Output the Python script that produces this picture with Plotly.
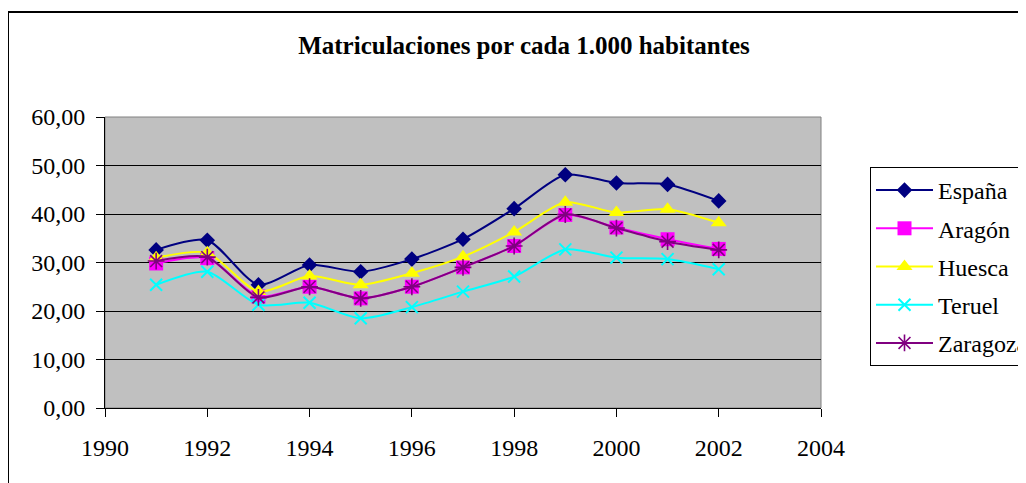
import plotly.graph_objects as go

years = [1991, 1992, 1993, 1994, 1995, 1996, 1997, 1998, 1999, 2000, 2001, 2002]
espana = [32.6, 34.6, 25.4, 29.5, 28.1, 30.7, 34.8, 41.1, 48.1, 46.4, 46.1, 42.7]
aragon = [29.8, 30.9, 23.0, 25.0, 22.6, 25.0, 29.0, 33.4, 39.8, 37.2, 34.8, 32.8]
huesca = [31.0, 32.0, 24.0, 27.2, 25.4, 27.8, 31.2, 36.3, 42.4, 40.3, 41.0, 38.2]
teruel = [25.4, 28.1, 21.3, 21.7, 18.5, 20.8, 24.0, 27.1, 32.7, 31.0, 30.7, 28.6]
zaragoza = [30.3, 31.1, 22.8, 25.0, 22.6, 25.0, 29.0, 33.4, 39.9, 37.1, 34.3, 32.6]

y_ticks = [0, 10, 20, 30, 40, 50, 60]
x_ticks = [1990, 1992, 1994, 1996, 1998, 2000, 2002, 2004]

FONT = "Liberation Serif, Times New Roman, serif"
FS = 24

series = [
    ("España", espana, "#000080", "diamond", 12, 0),
    ("Aragón", aragon, "#FF00FF", "square", 14, 0),
    ("Huesca", huesca, "#FFFF00", "triangle-up", 14, 0),
    ("Teruel", teruel, "#00FFFF", "x-thin", 12, 2),
    ("Zaragoza", zaragoza, "#800080", "asterisk", 14, 1.6),
]

fig = go.Figure()
for name, vals, col, sym, size, lw in series:
    marker = dict(symbol=sym, size=size, color=col)
    if lw:
        marker["line"] = dict(color=col, width=lw)
    fig.add_trace(go.Scatter(
        x=years, y=vals, name=name, mode="lines+markers",
        line=dict(color=col, width=2, shape="spline", smoothing=0.7),
        marker=marker, legendgroup=name,
    ))

# page has an 8px body margin; work in page pixels and convert
OFF = 8
W, H = 1026 - OFF, 483 - OFF
PL, PR, PT, PB = 105, 821, 117, 408   # plot area in page pixels
L, T = PL - OFF, PT - OFF
PW, PH = PR - PL, PB - PT
R, B = W - L - PW, H - T - PH

def px(x):
    return (x - PL) / PW

def py(y):
    return (PB - y) / PH

fig.update_layout(
    width=W, height=H,
    margin=dict(l=L, r=R, t=T, b=B, autoexpand=False),
    paper_bgcolor="white", plot_bgcolor="#C0C0C0",
    separators=",.",
    font=dict(family=FONT, size=FS, color="black"),
    title=dict(text="<b>Matriculaciones por cada 1.000 habitantes</b>",
               x=(524 - OFF) / W, xref="container", xanchor="center",
               y=1 - (45 - OFF) / H, yref="container", yanchor="middle",
               font=dict(family=FONT, size=25, color="black")),
    showlegend=True,
    legend=dict(x=px(870), y=py(167), xanchor="left", yanchor="top",
                bgcolor="white", bordercolor="black", borderwidth=1,
                font=dict(family=FONT, size=FS, color="black"),
                itemwidth=57, tracegroupgap=4, traceorder="grouped"),
    xaxis=dict(range=[1990, 2004], tickvals=x_ticks, ticktext=[str(v) for v in x_ticks],
               showgrid=False, zeroline=False, showline=True, linecolor="black", linewidth=1,
               ticks="outside", ticklen=8, tickcolor="black", ticklabelstandoff=10,
               tickfont=dict(family=FONT, size=FS, color="black")),
    yaxis=dict(range=[0, 60], tickvals=y_ticks, tickformat=".2f",
               showgrid=True, gridcolor="black", gridwidth=1, zeroline=False,
               showline=True, linecolor="black", linewidth=1,
               ticks="outside", ticklen=8, tickcolor="black", ticklabelstandoff=6,
               tickfont=dict(family=FONT, size=FS, color="black")),
    shapes=[
        dict(type="rect", xref="paper", yref="paper", x0=0, x1=1, y0=0, y1=1,
             line=dict(color="#808080", width=1), layer="below"),
        dict(type="line", xref="paper", yref="paper", x0=px(8), x1=px(1040), y0=py(12), y1=py(12),
             line=dict(color="black", width=2)),
        dict(type="line", xref="paper", yref="paper", x0=px(8), x1=px(8), y0=py(12), y1=py(500),
             line=dict(color="black", width=2)),
    ],
)

fig.write_html("out.html")
